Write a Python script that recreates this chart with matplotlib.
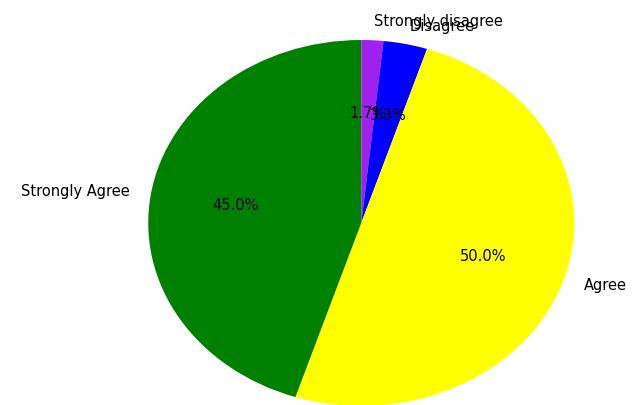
import matplotlib.pyplot as plt

labels = ['Strongly disagree', 'Disagree', 'Agree', 'Strongly Agree']
counts = [1, 2, 30, 27]
colors = ['#a020f0', 'blue', 'yellow', 'green']

fig = plt.figure(figsize=(6.32, 4.05), dpi=100)
# pie is stretched horizontally in the reference
ax = fig.add_axes([95 / 632, -46.75 / 405, 532.5 / 632, 457.5 / 405])
ax.pie(counts, labels=labels, colors=colors, autopct='%1.1f%%',
       startangle=90, counterclock=False,
       textprops={'fontsize': 10.5})
ax.set_aspect('auto')
ax.set_xlim(-1.25, 1.25)
ax.set_ylim(-1.25, 1.25)

fig.savefig('out.png', dpi=100)
